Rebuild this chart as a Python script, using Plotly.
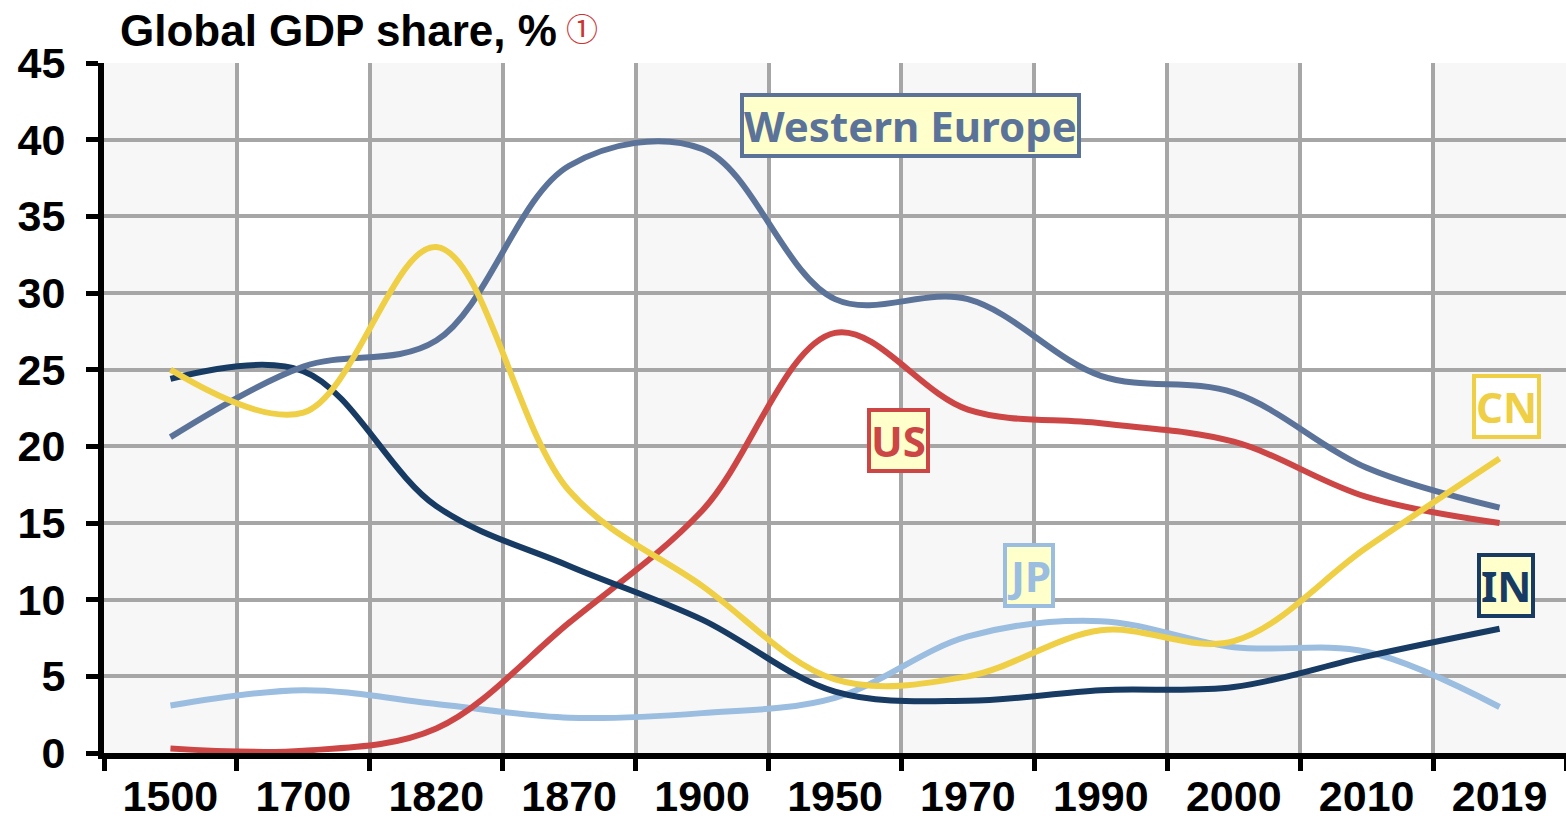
import plotly.graph_objects as go

years = ["1500", "1700", "1820", "1870", "1900", "1950", "1970", "1990", "2000", "2010", "2019"]
western_europe = [20.6, 25.2, 26.9, 38.3, 39.4, 29.6, 29.6, 24.6, 23.5, 18.6, 16.0]
us = [0.3, 0.15, 1.6, 8.5, 15.8, 27.4, 22.4, 21.5, 20.3, 16.7, 15.0]
india = [24.4, 24.9, 16.1, 12.2, 8.7, 4.0, 3.4, 4.1, 4.3, 6.3, 8.1]
china = [25.0, 22.2, 33.0, 17.1, 10.9, 4.8, 5.0, 8.0, 7.3, 13.4, 19.2]
japan = [3.1, 4.1, 3.2, 2.3, 2.6, 3.6, 7.6, 8.6, 6.9, 6.6, 3.0]

C_WE, C_US, C_IN, C_CN, C_JP = "#5b7399", "#cc4646", "#173b63", "#efcf45", "#9bbde0"

series = [
    ("JP", japan, C_JP),
    ("US", us, C_US),
    ("IN", india, C_IN),
    ("Western Europe", western_europe, C_WE),
    ("CN", china, C_CN),
]

fig = go.Figure()
for name, vals, col in series:
    fig.add_trace(go.Scatter(x=years, y=vals, mode="lines", name=name,
                             line=dict(color=col, width=6, shape="spline", smoothing=1.0)))

# alternating column bands
for i in range(len(years)):
    if i % 2 == 0:
        fig.add_shape(type="rect", xref="x", yref="paper", x0=i - 0.5, x1=i + 0.5, y0=0, y1=1,
                      fillcolor="#f7f7f7", line_width=0, layer="below")

labels = [
    ("Western Europe", 5.57, 40.9, C_WE, "#ffffcc"),
    ("US", 5.48, 20.4, C_US, "#ffffcc"),
    ("JP", 6.46, 11.55, C_JP, "#ffffcc"),
    ("CN", 10.05, 22.6, C_CN, "#ffffff"),
    ("IN", 10.05, 10.9, C_IN, "#ffffcc"),
]
for txt, x, y, col, bg in labels:
    fig.add_annotation(x=x, y=y, xref="x", yref="y", text=txt, showarrow=False,
                       font=dict(family="Noto Sans", size=42, color=col, weight="bold"),
                       bgcolor=bg, bordercolor=col, borderwidth=4, borderpad=0)

W = 1462.0
H = 690.0
fig.add_annotation(x=(118 - 104) / W, y=(753 - 30) / H, xref="paper", yref="paper",
                   text="Global GDP share, %", showarrow=False, xanchor="left", yanchor="middle",
                   font=dict(family="Liberation Sans", size=44, color="black", weight="bold"))
fig.add_annotation(x=(582 - 104) / W, y=(753 - 27) / H, xref="paper", yref="paper",
                   text="①", showarrow=False, xanchor="center", yanchor="middle",
                   font=dict(family="Noto Sans CJK SC", size=32, color="#cc3333"))

axis_common = dict(showgrid=True, gridcolor="#a6a6a6", gridwidth=4,
                   showline=True, linecolor="black", linewidth=6,
                   ticks="outside", ticklen=12, tickwidth=5, tickcolor="black",
                   automargin=False,
                   tickfont=dict(family="Liberation Sans", size=43, color="black", weight="bold"))

fig.update_layout(
    width=1566, height=819,
    margin=dict(l=104, r=0, t=63, b=66),
    paper_bgcolor="white", plot_bgcolor="white",
    showlegend=False,
    xaxis=dict(type="category", range=[-0.5, 10.5], tickson="boundaries", **axis_common),
    yaxis=dict(range=[0, 45], dtick=5, zeroline=False, ticklabelstandoff=12, **axis_common),
)
fig.write_html("out.html", config={"displayModeBar": False},
               post_script="document.body.style.margin='0';document.body.style.overflow='hidden';")
